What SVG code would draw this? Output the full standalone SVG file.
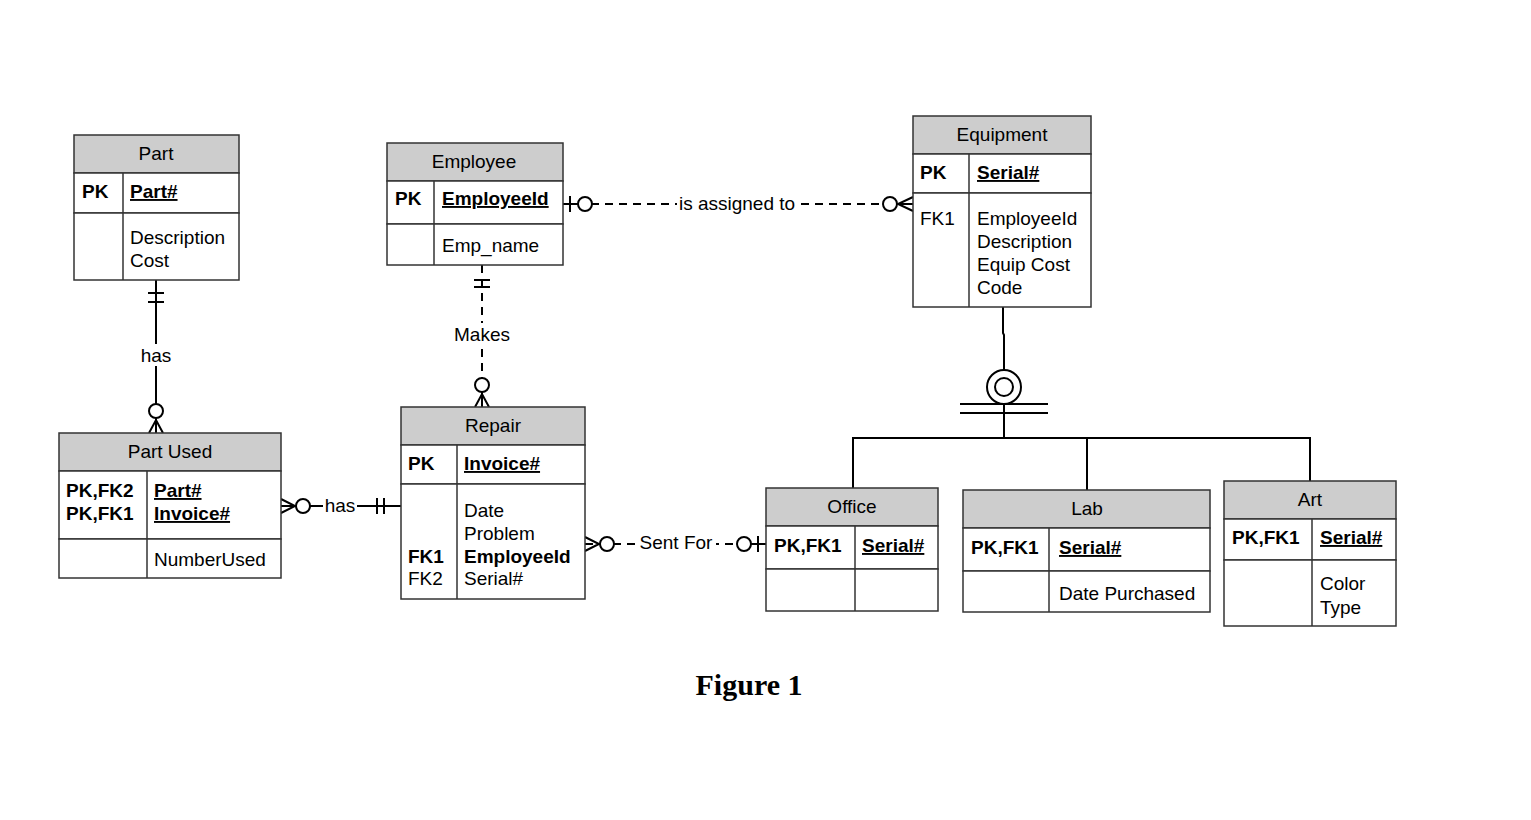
<svg xmlns="http://www.w3.org/2000/svg" width="1531" height="820" viewBox="0 0 1531 820">
<style>
.box{fill:#fff;stroke:#333;stroke-width:1.5}
.hdr{fill:#cdcdcd;stroke:#333;stroke-width:1.5}
.ln{stroke:#333;stroke-width:1.5;fill:none}
text{font-family:"Liberation Sans",Arial,sans-serif;font-size:19px;fill:#000}
.c{text-anchor:middle}
.b{font-weight:bold}
.u{text-decoration:underline}
.con{stroke:#000;stroke-width:2;fill:none}
.dash{stroke-dasharray:8,6}
.circ{fill:#fff;stroke:#000;stroke-width:2}
.lbl{fill:#fff;stroke:none}
</style>
<rect width="1531" height="820" fill="#fff"/>

<g id="connectors">
  <!-- Part - Part Used -->
  <line class="con" x1="156" y1="280" x2="156" y2="433"/>
  <line class="con" x1="148" y1="293" x2="164" y2="293"/>
  <line class="con" x1="148" y1="302" x2="164" y2="302"/>
  <rect class="lbl" x="139" y="344" width="34" height="22"/>
  <text class="c" x="156" y="362">has</text>
  <circle class="circ" cx="156" cy="411" r="7"/>
  <path class="con" d="M149,433 L156,420 L163,433 M156,420 L156,433"/>

  <!-- Employee - Repair -->
  <line class="con dash" x1="482" y1="265" x2="482" y2="407"/>
  <line class="con" x1="474" y1="280" x2="490" y2="280"/>
  <line class="con" x1="474" y1="287" x2="490" y2="287"/>
  <rect class="lbl" x="452" y="323" width="60" height="22"/>
  <text class="c" x="482" y="341">Makes</text>
  <circle class="circ" cx="482" cy="385" r="7"/>
  <path class="con" d="M475,407 L482,394 L489,407 M482,394 L482,407"/>

  <!-- Employee - Equipment -->
  <line class="con dash" x1="563" y1="204" x2="913" y2="204"/>
  <line class="con" x1="563" y1="204" x2="578" y2="204"/>
  <line class="con" x1="570" y1="196" x2="570" y2="212"/>
  <circle class="circ" cx="585" cy="204" r="7"/>
  <rect class="lbl" x="677" y="193" width="121" height="22"/>
  <text class="c" x="737" y="210">is assigned to</text>
  <circle class="circ" cx="890" cy="204" r="7"/>
  <path class="con" d="M913,197 L898,204 L913,211 M898,204 L913,204"/>

  <!-- Part Used - Repair -->
  <line class="con" x1="281" y1="506" x2="401" y2="506"/>
  <path class="con" d="M281,499 L295,506 L281,513"/>
  <circle class="circ" cx="303" cy="506" r="7"/>
  <rect class="lbl" x="323" y="495" width="34" height="22"/>
  <text class="c" x="340" y="512">has</text>
  <line class="con" x1="377" y1="498" x2="377" y2="514"/>
  <line class="con" x1="384" y1="498" x2="384" y2="514"/>

  <!-- Repair - Office -->
  <line class="con dash" x1="585" y1="544" x2="766" y2="544"/>
  <path class="con" d="M585,537 L599,544 L585,551"/>
  <circle class="circ" cx="607" cy="544" r="7"/>
  <rect class="lbl" x="636" y="532" width="80" height="22"/>
  <text class="c" x="676" y="549">Sent For</text>
  <circle class="circ" cx="744" cy="544" r="7"/>
  <line class="con" x1="751" y1="544" x2="766" y2="544"/>
  <line class="con" x1="758" y1="536" x2="758" y2="552"/>

  <!-- Equipment subtypes -->
  <path class="con" d="M1003,307 L1003,333 L1004,335 L1004,370"/>
  <circle class="circ" cx="1004" cy="387" r="17"/>
  <circle class="circ" cx="1004" cy="387" r="9"/>
  <line class="con" x1="960" y1="404" x2="1048" y2="404"/>
  <line class="con" x1="960" y1="413" x2="1048" y2="413"/>
  <line class="con" x1="1004" y1="404" x2="1004" y2="438"/>
  <path class="con" d="M853,488 L853,438 L1310,438 L1310,481 M1087,438 L1087,490"/>
</g>

<g id="part">
  <rect class="hdr" x="74" y="135" width="165" height="38"/>
  <rect class="box" x="74" y="173" width="165" height="40"/>
  <rect class="box" x="74" y="213" width="165" height="67"/>
  <line class="ln" x1="123" y1="173" x2="123" y2="280"/>
  <text class="c" x="156" y="160">Part</text>
  <text class="b" x="82" y="198">PK</text>
  <text class="b u" x="130" y="198">Part#</text>
  <text x="130" y="244">Description</text>
  <text x="130" y="267">Cost</text>
</g>

<g id="employee">
  <rect class="hdr" x="387" y="143" width="176" height="38"/>
  <rect class="box" x="387" y="181" width="176" height="43"/>
  <rect class="box" x="387" y="224" width="176" height="41"/>
  <line class="ln" x1="434" y1="181" x2="434" y2="265"/>
  <text class="c" x="474" y="168">Employee</text>
  <text class="b" x="395" y="205">PK</text>
  <text class="b u" x="442" y="205">EmployeeId</text>
  <text x="442" y="252">Emp_name</text>
</g>

<g id="equipment">
  <rect class="hdr" x="913" y="116" width="178" height="38"/>
  <rect class="box" x="913" y="154" width="178" height="39"/>
  <rect class="box" x="913" y="193" width="178" height="114"/>
  <line class="ln" x1="969" y1="154" x2="969" y2="307"/>
  <text class="c" x="1002" y="141">Equipment</text>
  <text class="b" x="920" y="179">PK</text>
  <text class="b u" x="977" y="179">Serial#</text>
  <text x="920" y="225">FK1</text>
  <text x="977" y="225">EmployeeId</text>
  <text x="977" y="248">Description</text>
  <text x="977" y="271">Equip Cost</text>
  <text x="977" y="294">Code</text>
</g>

<g id="partused">
  <rect class="hdr" x="59" y="433" width="222" height="38"/>
  <rect class="box" x="59" y="471" width="222" height="68"/>
  <rect class="box" x="59" y="539" width="222" height="39"/>
  <line class="ln" x1="147" y1="471" x2="147" y2="578"/>
  <text class="c" x="170" y="458">Part Used</text>
  <text class="b" x="66" y="497">PK,FK2</text>
  <text class="b" x="66" y="520">PK,FK1</text>
  <text class="b u" x="154" y="497">Part#</text>
  <text class="b u" x="154" y="520">Invoice#</text>
  <text x="154" y="566">NumberUsed</text>
</g>

<g id="repair">
  <rect class="hdr" x="401" y="407" width="184" height="38"/>
  <rect class="box" x="401" y="445" width="184" height="39"/>
  <rect class="box" x="401" y="484" width="184" height="115"/>
  <line class="ln" x1="457" y1="445" x2="457" y2="599"/>
  <text class="c" x="493" y="432">Repair</text>
  <text class="b" x="408" y="470">PK</text>
  <text class="b u" x="464" y="470">Invoice#</text>
  <text x="464" y="517">Date</text>
  <text x="464" y="540">Problem</text>
  <text class="b" x="408" y="563">FK1</text>
  <text class="b" x="464" y="563">EmployeeId</text>
  <text x="408" y="585">FK2</text>
  <text x="464" y="585">Serial#</text>
</g>

<g id="office">
  <rect class="hdr" x="766" y="488" width="172" height="38"/>
  <rect class="box" x="766" y="526" width="172" height="43"/>
  <rect class="box" x="766" y="569" width="172" height="42"/>
  <line class="ln" x1="855" y1="526" x2="855" y2="611"/>
  <text class="c" x="852" y="513">Office</text>
  <text class="b" x="774" y="552">PK,FK1</text>
  <text class="b u" x="862" y="552">Serial#</text>
</g>

<g id="lab">
  <rect class="hdr" x="963" y="490" width="247" height="38"/>
  <rect class="box" x="963" y="528" width="247" height="43"/>
  <rect class="box" x="963" y="571" width="247" height="41"/>
  <line class="ln" x1="1049" y1="528" x2="1049" y2="612"/>
  <text class="c" x="1087" y="515">Lab</text>
  <text class="b" x="971" y="554">PK,FK1</text>
  <text class="b u" x="1059" y="554">Serial#</text>
  <text x="1059" y="600">Date Purchased</text>
</g>

<g id="art">
  <rect class="hdr" x="1224" y="481" width="172" height="38"/>
  <rect class="box" x="1224" y="519" width="172" height="41"/>
  <rect class="box" x="1224" y="560" width="172" height="66"/>
  <line class="ln" x1="1312" y1="519" x2="1312" y2="626"/>
  <text class="c" x="1310" y="506">Art</text>
  <text class="b" x="1232" y="544">PK,FK1</text>
  <text class="b u" x="1320" y="544">Serial#</text>
  <text x="1320" y="590">Color</text>
  <text x="1320" y="614">Type</text>
</g>

<text class="c b" x="749" y="695" style="font-family:'Liberation Serif','Times New Roman',serif;font-size:30px">Figure 1</text>
</svg>
